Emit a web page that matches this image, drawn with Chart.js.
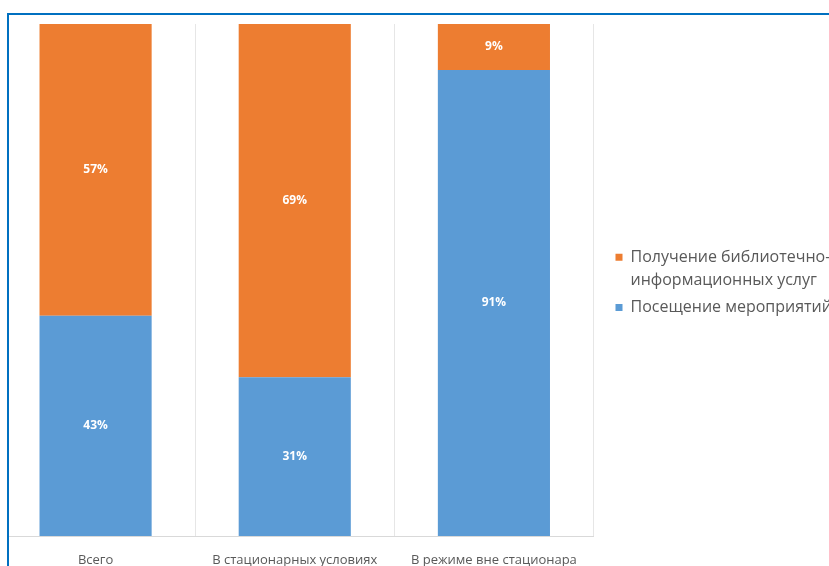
<!DOCTYPE html>
<html>
<head>
<meta charset="utf-8">
<script src="https://cdn.jsdelivr.net/npm/chart.js@4.4.1/dist/chart.umd.min.js"></script>
<style>
    html, body { margin: 0; padding: 0; width: 829px; height: 566px; overflow: hidden; background: #fff; }
    #frame { position: absolute; left: 7px; top: 13px; width: 900px; height: 700px; border: 2px solid #0070c0; box-sizing: border-box; }
    #chart { position: absolute; left: -4px; top: 0; clip-path: inset(0 0 0 13px); }
</style>
</head>
<body>
<div id="frame"></div>
<canvas id="chart" width="840" height="584"></canvas>
<script>
const categories = ["Всего", "В стационарных условиях", "В режиме вне стационара"];
const eventsLabel = ["Посещение мероприятий"];
const servicesLabel = ["Получение библиотечно-", "информационных услуг"];
const eventsShare = [43, 31, 91];
const servicesShare = [57, 69, 9];

// подписи значений внутри столбцов
const valueLabels = {
    id: "valueLabels",
    afterDatasetsDraw(chart) {
        const ctx = chart.ctx;
        ctx.save();
        ctx.fillStyle = "#ffffff";
        ctx.font = "bold 12px 'Open Sans'";
        ctx.textAlign = "center";
        ctx.textBaseline = "middle";
        chart.data.datasets.forEach((ds, i) => {
            chart.getDatasetMeta(i).data.forEach((bar, j) => {
                ctx.fillText(ds.data[j] + "%", bar.x, (bar.y + bar.base) / 2);
            });
        });
        ctx.restore();
    },
};

const ctx = document.getElementById("chart").getContext("2d");
new Chart(ctx, {
    type: "bar",
    data: {
        labels: categories,
        datasets: [
            {
                label: eventsLabel.join(""),
                data: eventsShare,
                backgroundColor: "#5b9bd5",
                categoryPercentage: 1,
                barPercentage: 0.563,
            },
            {
                label: servicesLabel.join(""),
                data: servicesShare,
                backgroundColor: "#ed7d31",
                categoryPercentage: 1,
                barPercentage: 0.563,
            },
        ],
    },
    options: {
        responsive: false,
        animation: false,
        layout: { padding: { top: 24, bottom: 0 } },
        plugins: {
            tooltip: { enabled: false },
            legend: {
                position: "right",
                fullSize: false,
                reverse: true,
                maxWidth: 224.5,
                title: { display: true, text: "", font: { size: 10, lineHeight: 1 }, padding: 1 },
                labels: {
                    boxWidth: 7,
                    boxHeight: 7,
                    padding: 4,
                    color: "#595959",
                    font: { family: "'Open Sans'", size: 16, lineHeight: 1.45 },
                    generateLabels(chart) {
                        const items = Chart.defaults.plugins.legend.labels.generateLabels(chart);
                        items.forEach((item) => {
                            item.text = item.datasetIndex === 1 ? servicesLabel : eventsLabel;
                        });
                        return items;
                    },
                },
            },
        },
        scales: {
            x: {
                stacked: true,
                grid: { color: "#e6e6e6", drawTicks: false },
                border: { color: "#d9d9d9" },
                ticks: { color: "#595959", font: { family: "'Open Sans'", size: 13 }, padding: 16.2 },
            },
            y: {
                stacked: true,
                position: "right",
                min: 0,
                max: 100,
                grid: { display: false },
                border: { display: false },
                ticks: { display: false },
                afterFit(scale) { scale.width = 18; },
            },
        },
    },
    plugins: [valueLabels],
});
</script>
</body>
</html>
